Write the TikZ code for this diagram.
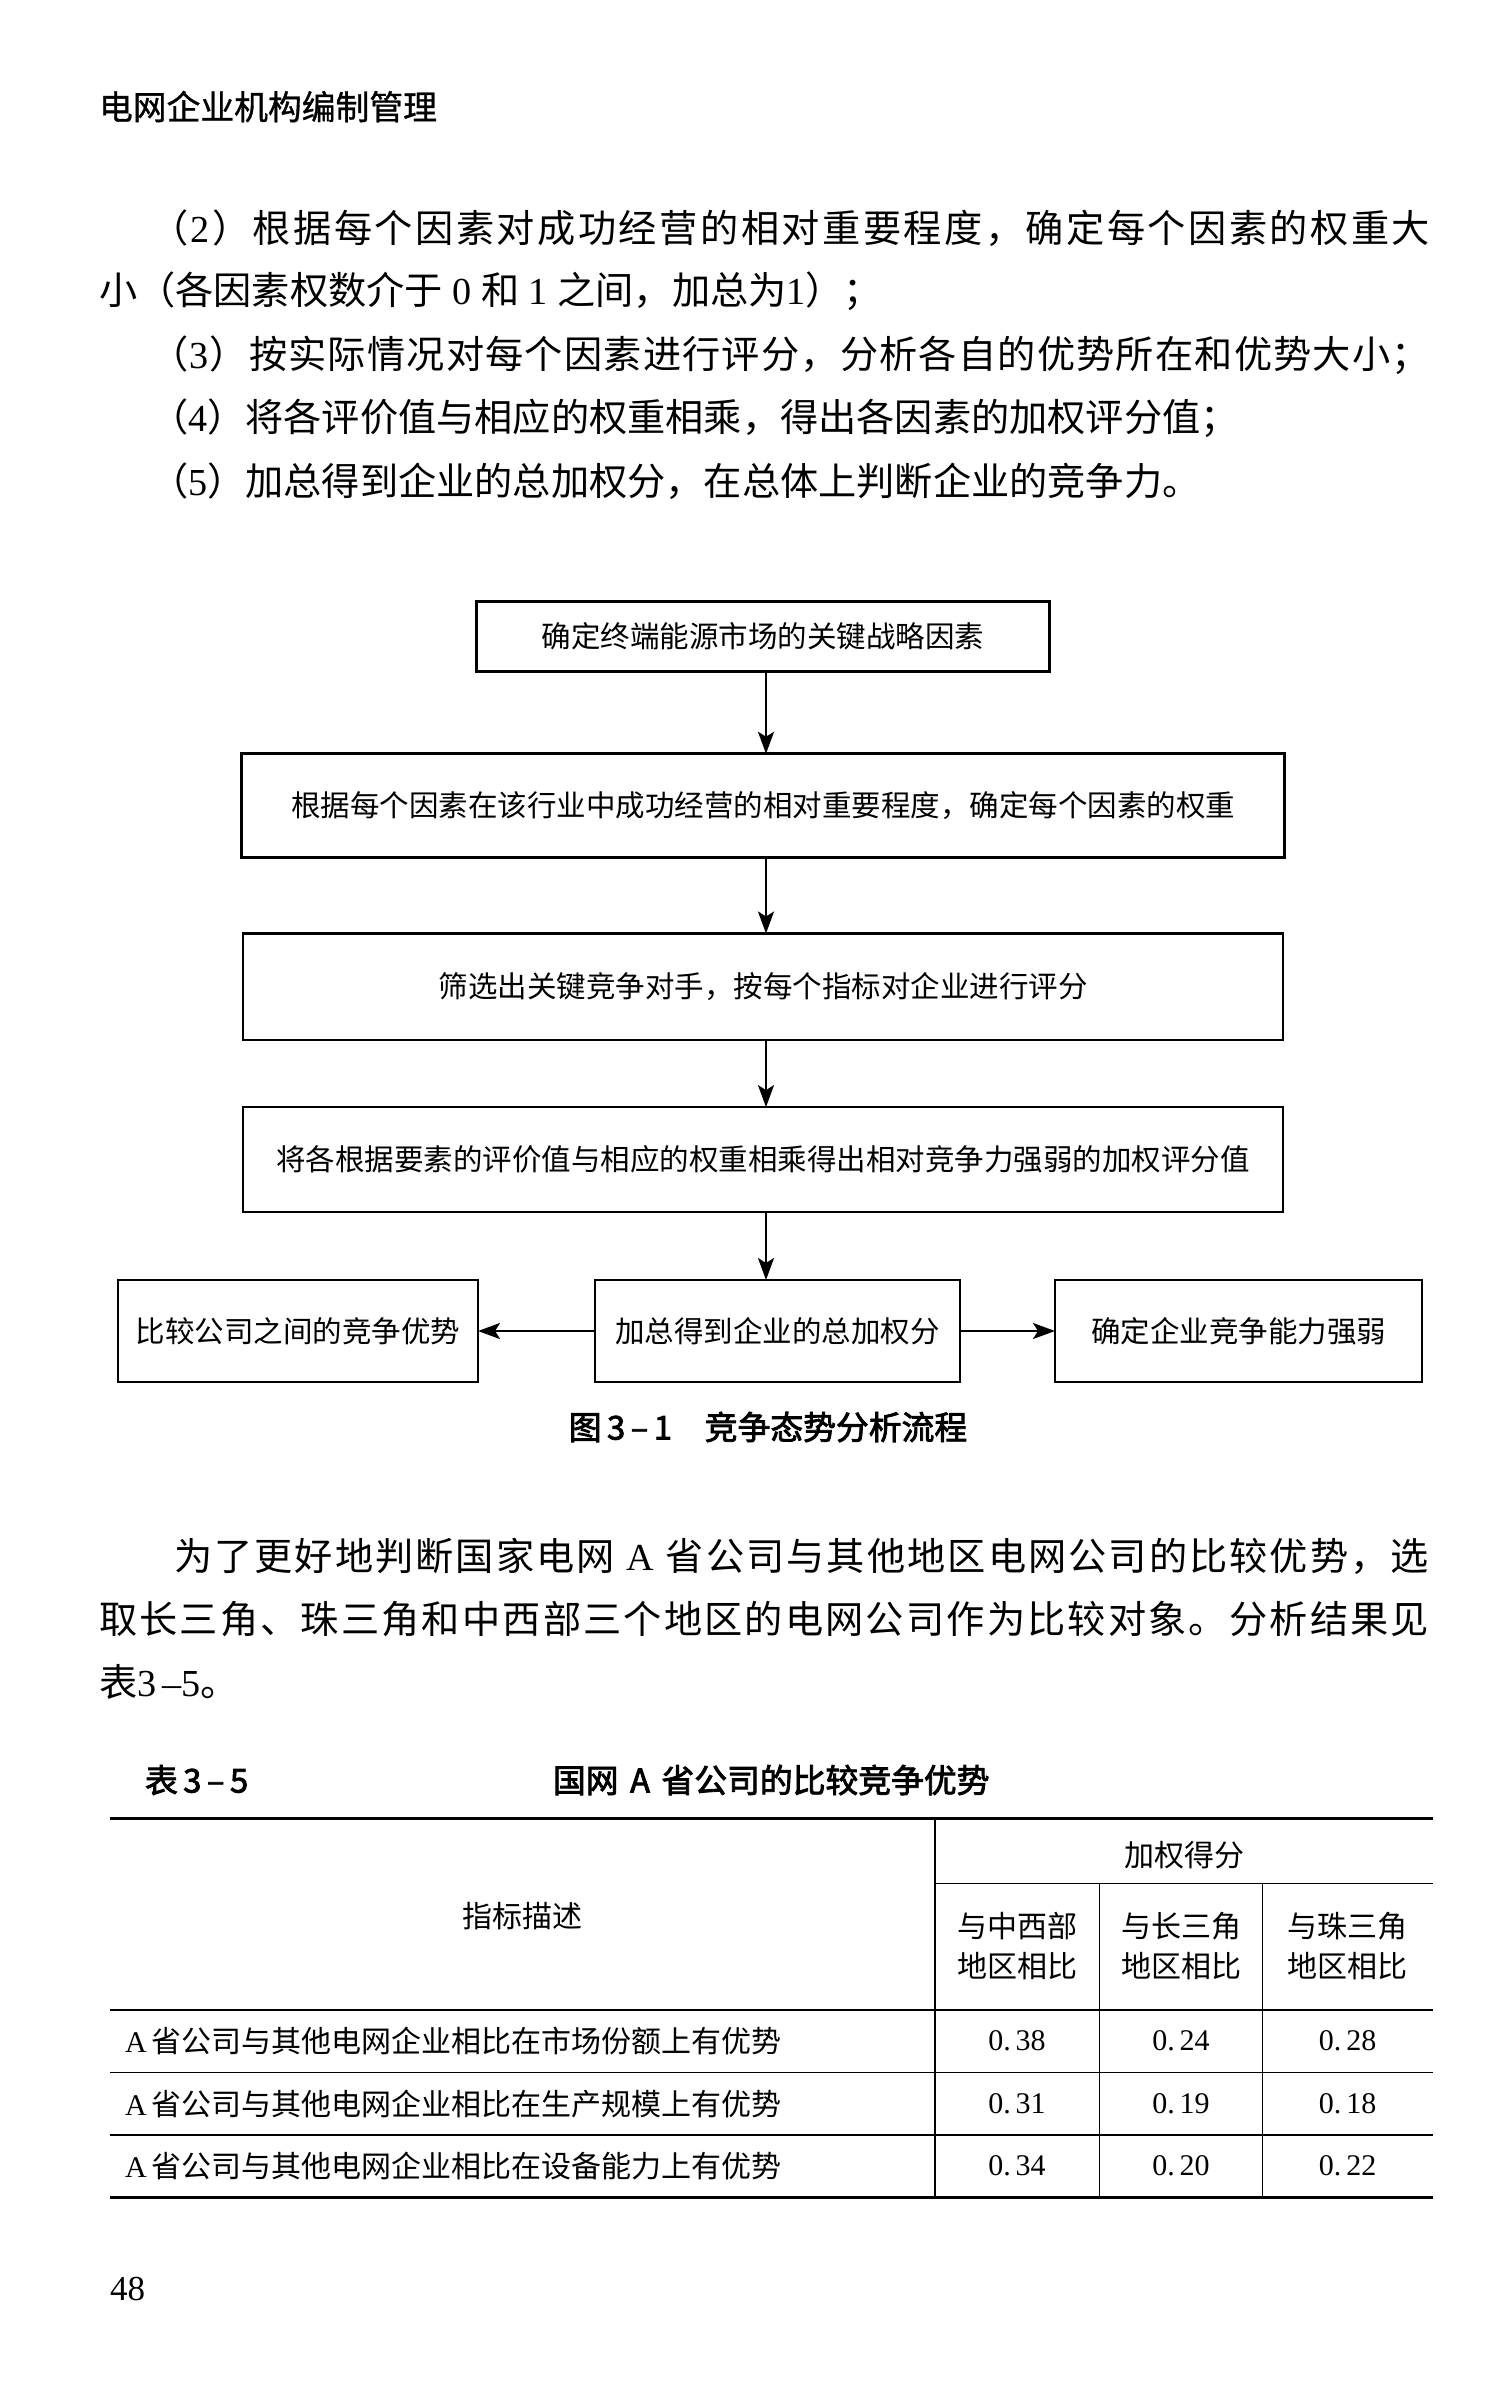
\documentclass[tikz,border=0pt]{standalone}
\usepackage{fontspec}
\setmainfont{Noto Sans CJK SC}
\newfontfamily\tms{Liberation Serif}
\newfontfamily\heib[FakeBold=2.5]{Noto Sans CJK SC}
\newfontfamily\heim[FakeBold=1]{Noto Sans CJK SC}
\usetikzlibrary{arrows.meta}
\newcommand\bodyfs{\fontsize{19.1pt}{22pt}\selectfont}
\newcommand\boxfs{\fontsize{14.75pt}{18pt}\selectfont}
\newcommand\tabfs{\fontsize{15pt}{20pt}\selectfont}
\makeatletter
\def\jl@end{\jl@end@mark}
\def\jl@end@mark{}
\newcommand\jl[2]{\makebox[#1][s]{\jl@first#2\jl@end}}
\def\jl@first#1{{#1}\jl@next}
\def\jl@next#1{\ifx\jl@end#1\else\hfil{#1}\expandafter\jl@next\fi}
\makeatother
\tikzset{
  txt/.style={inner sep=0pt, outer sep=0pt, anchor=west},
  body/.style={txt, font=\bodyfs},
  flowbox/.style={draw, line width=1.3pt, inner sep=0pt, outer sep=0pt, font=\boxfs, align=center},
  arr/.style={-{Stealth[length=11pt,width=8pt,inset=2.5pt]}, line width=1.1pt},
  tab/.style={inner sep=0pt, outer sep=0pt, font=\tabfs, align=center},
  thickrule/.style={line width=1.5pt},
  thinrule/.style={line width=0.75pt},
  captxt/.style={inner sep=0pt, outer sep=0pt, font=\heib\fontsize{16.4pt}{19pt}\selectfont},
}
\begin{document}
\begin{tikzpicture}[x=0.5pt,y=-0.5pt]
\fill[white] (0,0) rectangle (1500,2387);
\useasboundingbox (0,0) rectangle (1500,2387);

% running head
\node[txt, font=\heim\fontsize{16.9pt}{20pt}\selectfont] (head) at (99,106.6) {电网企业机构编制管理};

% first text block
\node[body] (l1) at (150,228.5) {\jl{640pt}{（{\tms 2}）根据每个因素对成功经营的相对重要程度，确定每个因素的权重大}};
\node[body] (l2) at (99,291.7) {小（各因素权数介于\hspace{0.25em}{\tms 0}\hspace{0.25em}和\hspace{0.25em}{\tms 1}\hspace{0.25em}之间，加总为{\tms 1}）；};
\node[body] (l3) at (150,354.9) {\jl{640pt}{（{\tms 3}）按实际情况对每个因素进行评分，分析各自的优势所在和优势大小；}};
\node[body] (l4) at (150,418.1) {（{\tms 4}）将各评价值与相应的权重相乘，得出各因素的加权评分值；};
\node[body] (l5) at (150,481.3) {（{\tms 5}）加总得到企业的总加权分，在总体上判断企业的竞争力。};

% flowchart
\coordinate (ax) at (766,0);
\node[flowbox, minimum width=286.3pt, minimum height=35pt] (b1) at (763,636.5) {确定终端能源市场的关键战略因素};
\node[flowbox, minimum width=521.5pt, minimum height=51.75pt] (b2) at (763,805.5) {根据每个因素在该行业中成功经营的相对重要程度，确定每个因素的权重};
\node[flowbox, minimum width=520pt, minimum height=53.3pt] (b3) at (763,986.8) {筛选出关键竞争对手，按每个指标对企业进行评分};
\node[flowbox, minimum width=520pt, minimum height=52.5pt] (b4) at (763,1159.6) {将各根据要素的评价值与相应的权重相乘得出相对竞争力强弱的加权评分值};
\node[flowbox, minimum width=180pt, minimum height=51pt] (bl) at (298,1331) {比较公司之间的竞争优势};
\node[flowbox, minimum width=182.5pt, minimum height=51pt] (bm) at (777.5,1331) {加总得到企业的总加权分};
\node[flowbox, minimum width=183.5pt, minimum height=51pt] (br) at (1238.5,1331) {确定企业竞争能力强弱};

\draw[arr] (b1.south -| ax) -- (b2.north -| ax);
\draw[arr] (b2.south -| ax) -- (b3.north -| ax);
\draw[arr] (b3.south -| ax) -- (b4.north -| ax);
\draw[arr] (b4.south -| ax) -- (bm.north -| ax);
\draw[arr] (bm.west) -- (bl.east);
\draw[arr] (bm.east) -- (br.west);

\node[captxt] (cap) at (768,1427) {图\,3\,–\,1\hspace{1em}竞争态势分析流程};

% second text block
\node[body] (p1) at (174,1556) {\jl{627.5pt}{为了更好地判断国家电网{\hspace{0.25em}\tms A\hspace{0.25em}}省公司与其他地区电网公司的比较优势，选}};
\node[body] (p2) at (99,1619) {\jl{665pt}{取长三角、珠三角和中西部三个地区的电网公司作为比较对象。分析结果见}};
\node[body] (p3) at (99,1682) {表{\tms 3\,–5}。};

% table caption
\node[txt, captxt] (tt1) at (145,1780) {表\,3\,–\,5};
\node[txt, captxt] (tt2) at (553,1780) {国网\hspace{0.35em}A\hspace{0.35em}省公司的比较竞争优势};

% table rules
\draw[thickrule] (109.6,1818) -- (1433,1818);
\draw[thinrule] (935,1818) -- (935,2197.4);
\draw[thinrule] (935,1883.7) -- (1433,1883.7);
\draw[thinrule] (1099.5,1883.7) -- (1099.5,2197.4);
\draw[thinrule] (1262.4,1883.7) -- (1262.4,2197.4);
\draw[thinrule] (109.6,2010) -- (1433,2010);
\draw[thinrule] (109.6,2072.5) -- (1433,2072.5);
\draw[thinrule] (109.6,2135) -- (1433,2135);
\draw[line width=1.1pt] (109.6,2197.4) -- (1433,2197.4);

% table header
\node[tab] (hz) at (522,1916) {指标描述};
\node[tab] (hw) at (1184,1855) {加权得分};
\node[tab] (h1) at (1017,1946) {与中西部\\地区相比};
\node[tab] (h2) at (1181,1946) {与长三角\\地区相比};
\node[tab] (h3) at (1347.7,1946) {与珠三角\\地区相比};

% table rows
\node[txt, font=\tabfs] (r1) at (125,2041) {{\tms A}\hspace{0.15em}省公司与其他电网企业相比在市场份额上有优势};
\node[txt, font=\tabfs] (r2) at (125,2104) {{\tms A}\hspace{0.15em}省公司与其他电网企业相比在生产规模上有优势};
\node[txt, font=\tabfs] (r3) at (125,2166) {{\tms A}\hspace{0.15em}省公司与其他电网企业相比在设备能力上有优势};

\node[tab, font=\tms\fontsize{15pt}{18pt}\selectfont] (v11) at (1017,2041) {0.\,38};
\node[tab, font=\tms\fontsize{15pt}{18pt}\selectfont] (v12) at (1181,2041) {0.\,24};
\node[tab, font=\tms\fontsize{15pt}{18pt}\selectfont] (v13) at (1347.7,2041) {0.\,28};
\node[tab, font=\tms\fontsize{15pt}{18pt}\selectfont] (v21) at (1017,2104) {0.\,31};
\node[tab, font=\tms\fontsize{15pt}{18pt}\selectfont] (v22) at (1181,2104) {0.\,19};
\node[tab, font=\tms\fontsize{15pt}{18pt}\selectfont] (v23) at (1347.7,2104) {0.\,18};
\node[tab, font=\tms\fontsize{15pt}{18pt}\selectfont] (v31) at (1017,2166) {0.\,34};
\node[tab, font=\tms\fontsize{15pt}{18pt}\selectfont] (v32) at (1181,2166) {0.\,20};
\node[tab, font=\tms\fontsize{15pt}{18pt}\selectfont] (v33) at (1347.7,2166) {0.\,22};

% page number
\node[txt, font=\tms\fontsize{17.5pt}{20pt}\selectfont] (pg) at (110,2289) {48};
\end{tikzpicture}
\end{document}
